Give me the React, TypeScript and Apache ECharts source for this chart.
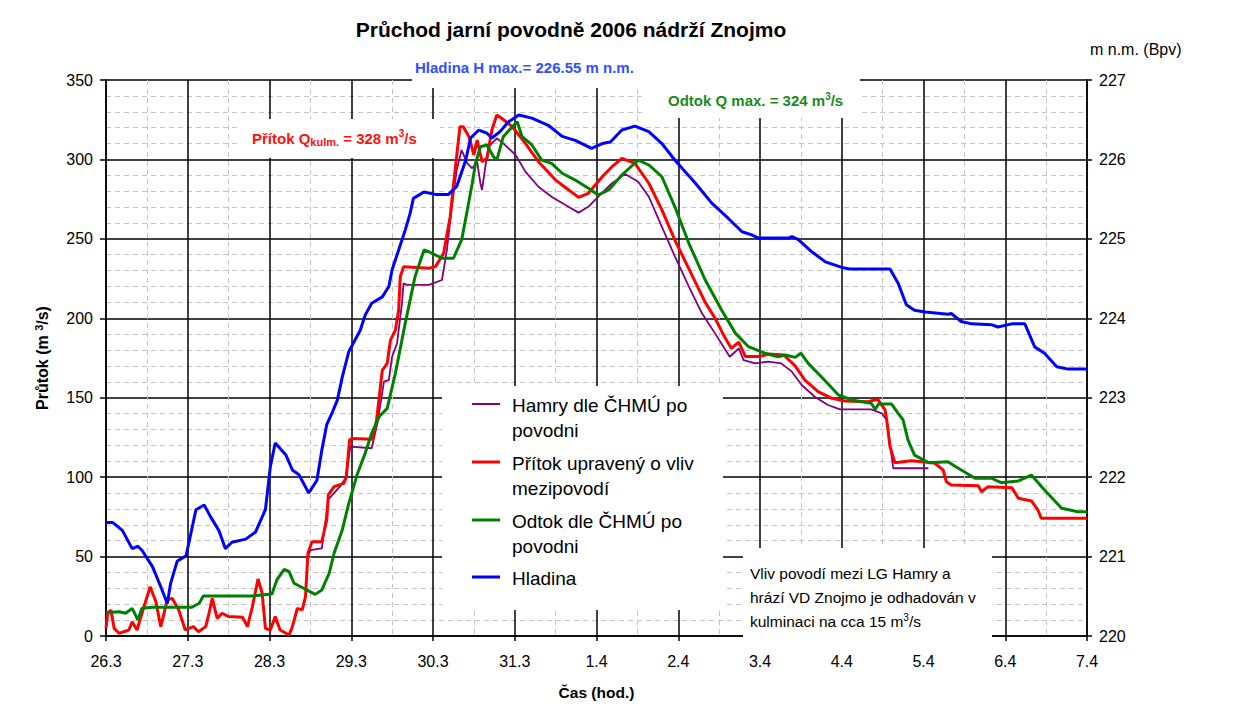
import React, { useEffect, useRef } from "react";
import * as echarts from "echarts";

const dayLabels = ["26.3", "27.3", "28.3", "29.3", "30.3", "31.3", "1.4", "2.4", "3.4", "4.4", "5.4", "6.4", "7.4"];

const seriesNames = ["Hamry dle ČHMÚ po povodni", "Přítok upravený o vliv mezipovodí", "Odtok dle ČHMÚ po povodni", "Hladina"];
const legendLines = [["Hamry dle ČHMÚ po", "povodni"], ["Přítok upravený o vliv", "mezipovodí"], ["Odtok dle ČHMÚ po", "povodni"], ["Hladina"]];
const seriesColors = ["#800080", "#ff0000", "#008000", "#0000ff"];

// [day since 26.3 00:00, m3/s]
const hamry: [number, number][] = [
  [2.47, 50], [2.5, 54.1], [2.64, 55.2], [2.72, 86], [2.77, 88.8], [2.86, 94], [2.93, 99.3], [2.99, 119.2], [3.25, 118.2], [3.32, 133.9],
  [3.4, 160.1], [3.46, 161.1], [3.5, 175.8], [3.56, 184.2], [3.62, 209.4], [3.64, 222], [3.68, 221], [3.95, 221], [4.11, 224.1],
  [4.17, 243], [4.23, 270.2], [4.29, 293.3], [4.35, 305.9], [4.42, 297.5], [4.48, 294.4], [4.54, 298.6], [4.58, 285], [4.6, 280.8],
  [4.64, 295.4], [4.68, 308], [4.78, 313.3], [4.86, 310.1], [5.01, 302.8], [5.13, 292.3], [5.29, 282.8], [5.45, 276.5], [5.62, 271.3],
  [5.78, 266.5], [5.9, 270.2], [6.02, 276.5], [6.19, 285], [6.35, 290.8], [6.51, 286], [6.64, 276.5], [6.8, 257.6], [6.96, 238.8],
  [7.13, 219.9], [7.29, 203.1], [7.45, 190.5], [7.63, 175.8], [7.74, 181], [7.8, 173.7], [7.94, 171.6], [8.1, 172.7], [8.26, 171.6],
  [8.39, 166.4], [8.51, 158], [8.67, 150.6], [8.83, 145.4], [8.98, 142.7], [9.36, 142.7], [9.49, 140.2], [9.55, 136], [9.63, 105.6],
  [10.06, 105.6]
];

const pritok: [number, number][] = [
  [0, 4.8], [0.02, 14.3], [0.06, 16.4], [0.1, 4.8], [0.16, 1.7], [0.28, 3.8], [0.32, 9], [0.38, 3.8], [0.44, 14.3], [0.54, 31],
  [0.61, 21.6], [0.67, 5.9], [0.71, 14.3], [0.75, 22.7], [0.81, 23.7], [0.89, 16.4], [0.97, 3.8], [1.07, 5.9], [1.13, 2.7], [1.22, 5.9],
  [1.26, 14.3], [1.3, 23.7], [1.36, 11.1], [1.42, 14.3], [1.5, 12.2], [1.67, 11.8], [1.73, 5.9], [1.79, 18.4], [1.86, 35.9], [1.91, 26.9],
  [1.95, 4.8], [2.01, 3.8], [2.07, 12.2], [2.13, 3.8], [2.24, 0.6], [2.28, 5.9], [2.34, 17.4], [2.4, 16.4], [2.44, 24.7], [2.47, 52.1],
  [2.52, 59.4], [2.64, 59.4], [2.7, 73], [2.72, 88.8], [2.79, 94], [2.91, 96.1], [2.94, 100.3], [2.98, 123.4], [3.01, 124.4],
  [3.26, 123.8], [3.31, 136], [3.38, 167.4], [3.44, 171.6], [3.48, 186.3], [3.54, 192.6], [3.58, 205.2], [3.6, 226.2], [3.64, 232.5],
  [3.95, 231.5], [4.03, 232.5], [4.13, 240.9], [4.21, 263.9], [4.27, 293.3], [4.33, 320.6], [4.37, 320.6], [4.44, 314.3], [4.5, 302.8],
  [4.54, 312.2], [4.6, 298.6], [4.66, 300.7], [4.72, 318.5], [4.78, 328], [4.84, 325.9], [4.97, 320.6], [5.13, 310.1], [5.29, 298.6],
  [5.5, 287], [5.66, 280.8], [5.78, 276.1], [5.9, 278.7], [6.07, 289.1], [6.19, 295.4], [6.31, 300.7], [6.47, 297.5], [6.64, 285],
  [6.8, 268.2], [6.96, 249], [7.16, 228], [7.33, 210], [7.45, 200], [7.57, 188], [7.65, 181], [7.74, 185], [7.82, 176], [8.0, 176],
  [8.1, 177.5], [8.29, 176.9], [8.43, 170], [8.55, 161], [8.71, 153.8], [8.88, 149.6], [9.04, 147.9], [9.32, 147.5], [9.44, 149],
  [9.53, 142.3], [9.55, 136], [9.59, 119.2], [9.65, 109.1], [9.85, 110.3], [10.06, 109.3], [10.14, 108.7], [10.24, 104.5], [10.28, 97.1],
  [10.34, 95], [10.67, 94.6], [10.71, 90.8], [10.79, 94], [11.08, 93.4], [11.16, 86.7], [11.32, 85], [11.4, 79.3], [11.44, 74.1], [12, 74.1]
];

const odtok: [number, number][] = [
  [0, 14.7], [0.16, 15.3], [0.24, 14.3], [0.32, 17.4], [0.39, 10.1], [0.44, 17.4], [0.57, 18.1], [1.05, 18.1], [1.14, 20.6], [1.19, 25.2],
  [1.79, 25.2], [2.03, 26.4], [2.09, 35.3], [2.18, 42], [2.24, 40.5], [2.3, 33.2], [2.44, 29.4], [2.56, 26.2], [2.64, 29], [2.73, 39.5],
  [2.79, 52.1], [2.89, 66.7], [2.97, 83.5], [3.07, 101.3], [3.17, 115], [3.25, 127.6], [3.34, 138], [3.44, 143.3], [3.54, 165.4],
  [3.66, 196.8], [3.78, 226.2], [3.89, 243], [3.95, 241.9], [4.11, 237.8], [4.25, 237.8], [4.35, 249.3], [4.42, 268.2], [4.48, 285],
  [4.52, 297.5], [4.58, 308], [4.66, 309.1], [4.74, 301.7], [4.78, 299.6], [4.86, 314.3], [4.97, 320.6], [5.03, 323.7], [5.09, 314.3],
  [5.21, 309.1], [5.33, 299.6], [5.45, 297.5], [5.58, 291.3], [5.74, 287], [5.9, 281.8], [6.02, 277.6], [6.15, 280.8], [6.31, 290.2],
  [6.51, 299.6], [6.64, 296.5], [6.8, 289.1], [6.96, 270], [7.13, 247.2], [7.33, 224.1], [7.53, 205.2], [7.7, 190.5], [7.86, 182.1],
  [8.06, 178], [8.22, 175.8], [8.31, 176.9], [8.43, 175.4], [8.5, 178], [8.59, 171.6], [8.75, 163.2], [8.96, 151.7], [9.12, 148.6],
  [9.36, 146.5], [9.41, 142.7], [9.45, 146], [9.61, 146], [9.69, 140.2], [9.75, 136], [9.81, 123.4], [9.89, 113.9], [10.06, 109.1],
  [10.3, 109.7], [10.38, 107], [10.63, 99.3], [10.83, 99.3], [10.95, 96.5], [11.16, 97.6], [11.32, 101.3], [11.48, 91.9], [11.69, 80.4],
  [11.89, 78.2], [12, 78.2]
];

// [day, m n.m.]
const hladina: [number, number][] = [
  [0, 221.43], [0.08, 221.43], [0.2, 221.33], [0.32, 221.1], [0.39, 221.13], [0.44, 221.08], [0.57, 220.87], [0.67, 220.62],
  [0.75, 220.41], [0.79, 220.66], [0.87, 220.94], [0.98, 221.01], [1.1, 221.59], [1.2, 221.65], [1.28, 221.5], [1.38, 221.33],
  [1.46, 221.1], [1.54, 221.18], [1.71, 221.22], [1.83, 221.31], [1.95, 221.59], [2.01, 222.13], [2.07, 222.43], [2.2, 222.28],
  [2.28, 222.09], [2.36, 222.03], [2.48, 221.8], [2.58, 221.96], [2.64, 222.34], [2.7, 222.66], [2.77, 222.82], [2.83, 222.97],
  [2.89, 223.26], [2.97, 223.58], [3.11, 223.85], [3.17, 224.04], [3.25, 224.19], [3.38, 224.27], [3.46, 224.4], [3.5, 224.61],
  [3.58, 224.86], [3.66, 225.11], [3.72, 225.32], [3.76, 225.51], [3.89, 225.59], [4.03, 225.56], [4.19, 225.56], [4.29, 225.66],
  [4.4, 225.99], [4.46, 226.27], [4.56, 226.37], [4.66, 226.33], [4.72, 226.27], [4.82, 226.35], [4.92, 226.47], [5.05, 226.56],
  [5.21, 226.52], [5.41, 226.43], [5.58, 226.29], [5.74, 226.24], [5.94, 226.14], [6.07, 226.2], [6.17, 226.22], [6.31, 226.37],
  [6.47, 226.42], [6.64, 226.35], [6.8, 226.2], [6.96, 225.99], [7.21, 225.7], [7.41, 225.45], [7.61, 225.26], [7.78, 225.09],
  [7.9, 225.05], [7.98, 225.01], [8.35, 225.01], [8.39, 225.03], [8.47, 224.99], [8.63, 224.84], [8.8, 224.71], [9.0, 224.64],
  [9.1, 224.62], [9.59, 224.62], [9.69, 224.44], [9.79, 224.17], [9.89, 224.1], [10.02, 224.08], [10.3, 224.05], [10.34, 224.06],
  [10.46, 223.96], [10.59, 223.93], [10.83, 223.92], [10.91, 223.89], [11.08, 223.93], [11.24, 223.93], [11.36, 223.64],
  [11.48, 223.56], [11.63, 223.39], [11.77, 223.36], [12, 223.36]
];

const seriesData = [hamry, pritok, odtok, hladina];

const titleText = "Průchod jarní povodně 2006 nádrží Znojmo";
const hladinaNote = "Hladina H max.= 226.55 m n.m.";
const odtokNote = "Odtok Q max. = 324 m{sup|3}/s";
const pritokNote = "Přítok Q{sub|kulm.} = 328 m{sup|3}/s";
const basinNote = ["Vliv povodí mezi LG Hamry a", "hrází VD Znojmo je odhadován v", "kulminaci na cca 15 m{sup|3}/s"];

export default function App() {
  const ref = useRef<HTMLDivElement>(null);
  useEffect(() => {
    const chart = echarts.init(ref.current!, null, { renderer: "svg" });
    const font = "'Liberation Sans', Arial, sans-serif";

    const white = (x: number, y: number, w: number, h: number) => ({
      type: "rect", z: 50, silent: true, shape: { x, y, width: w, height: h }, style: { fill: "#fff" }
    });
    const label = (text: string, x: number, y: number, color: string, size: number, bold: boolean, fam: string) => ({
      type: "text", z: 60, x, y,
      style: {
        text, fill: color, font: `${bold ? "bold " : ""}${size}px ${fam}`, textVerticalAlign: "middle",
        rich: {
          sup: { fill: color, fontSize: Math.round(size * 0.65), fontWeight: bold ? "bold" : "normal", fontFamily: fam, verticalAlign: "top", lineHeight: size + 2 },
          sub: { fill: color, fontSize: Math.round(size * 0.7), fontWeight: bold ? "bold" : "normal", fontFamily: fam, verticalAlign: "bottom", lineHeight: size + 4 }
        }
      }
    });

    const legendY = [404, 462, 520, 577];
    const legendEls: any[] = [white(442, 386, 281, 224)];
    legendLines.forEach((lines, i) => {
      legendEls.push({
        type: "line", z: 60, shape: { x1: 472, y1: legendY[i], x2: 500, y2: legendY[i] },
        style: { stroke: seriesColors[i], lineWidth: i === 0 ? 2 : 3 }
      });
      lines.forEach((t, j) => legendEls.push(label(t, 512, legendY[i] + 1 + j * 25, "#000", 19, false, font)));
    });

    chart.setOption({
      animation: false,
      backgroundColor: "#fff",
      title: {
        text: titleText, left: 566, top: 14, textAlign: "center",
        textStyle: { fontFamily: font, fontSize: 21, fontWeight: "bold", color: "#000" }
      },
      grid: { left: 106, right: 148, top: 80, bottom: 86 },
      xAxis: {
        type: "value", min: 0, max: 12, interval: 1,
        name: "Čas (hod.)", nameLocation: "middle", nameGap: 48,
        nameTextStyle: { fontFamily: font, fontSize: 15.5, fontWeight: "bold", color: "#000" },
        axisLine: { lineStyle: { color: "#000", width: 1.5 } },
        axisTick: { show: true, length: 5, lineStyle: { color: "#000", width: 1.5 } },
        axisLabel: { margin: 17, fontFamily: font, fontSize: 16, color: "#000", formatter: (v: number) => dayLabels[Math.round(v)] ?? "" },
        splitLine: { show: true, lineStyle: { color: "#000", width: 1.5 } },
        minorTick: { show: true, splitNumber: 2, length: 0, lineStyle: { color: "transparent" } },
        minorSplitLine: { show: true, lineStyle: { color: "#c4c4c4", width: 1, type: [5, 4] } }
      },
      yAxis: [
        {
          type: "value", min: 0, max: 350, interval: 50, position: "left",
          name: "Průtok (m {sup|3}/s)", nameLocation: "middle", nameGap: 55,
          nameTextStyle: {
            fontFamily: font, fontSize: 16, fontWeight: "bold", color: "#000",
            rich: { sup: { fontFamily: font, fontSize: 11, fontWeight: "bold", color: "#000", verticalAlign: "top", lineHeight: 18 } }
          },
          axisLine: { show: true, lineStyle: { color: "#000", width: 1.5 } },
          axisTick: { show: true, length: 6, lineStyle: { color: "#000", width: 1.5 } },
          axisLabel: { margin: 13, fontFamily: font, fontSize: 16, color: "#000" },
          splitLine: { show: true, lineStyle: { color: "#000", width: 1.5 } },
          minorTick: { show: true, splitNumber: 5, length: 0, lineStyle: { color: "transparent" } },
          minorSplitLine: { show: true, lineStyle: { color: "#c4c4c4", width: 1, type: [5, 4] } }
        },
        {
          type: "value", min: 220, max: 227, interval: 1, position: "right",
          name: "m n.m. (Bpv)", nameLocation: "end", nameGap: 23,
          nameTextStyle: { fontFamily: font, fontSize: 16, color: "#000", align: "left", padding: [0, 0, 0, 3] },
          axisLine: { show: true, lineStyle: { color: "#000", width: 1.5 } },
          axisTick: { show: true, length: 5, lineStyle: { color: "#000", width: 1.5 } },
          axisLabel: { margin: 12, fontFamily: font, fontSize: 16, color: "#000" },
          splitLine: { show: false }
        }
      ],
      series: seriesData.map((d, i) => ({
        name: seriesNames[i], type: "line", data: d, yAxisIndex: i === 3 ? 1 : 0,
        showSymbol: false, symbol: "none", z: 3 + i,
        lineStyle: { color: seriesColors[i], width: i === 0 ? 1.8 : 3 },
        itemStyle: { color: seriesColors[i] }
      })),
      graphic: [
        white(412, 50, 233, 38),
        white(645, 74, 215, 44),
        white(240, 119, 200, 39),
        white(743, 548, 249, 97),
        label(hladinaNote, 415, 67, "#3050ff", 15, true, font),
        label(odtokNote, 668, 100, "#1a8a1a", 15, true, font),
        label(pritokNote, 252, 138, "#ff1010", 15, true, font),
        ...basinNote.map((t, i) => label(t, 750, 573 + i * 24, "#000", 15.5, false, font)),
        ...legendEls
      ]
    });
    return () => chart.dispose();
  }, []);
  return <div ref={ref} style={{ position: "fixed", left: 0, top: 0, width: 1235, height: 722, background: "#fff" }} />;
}
